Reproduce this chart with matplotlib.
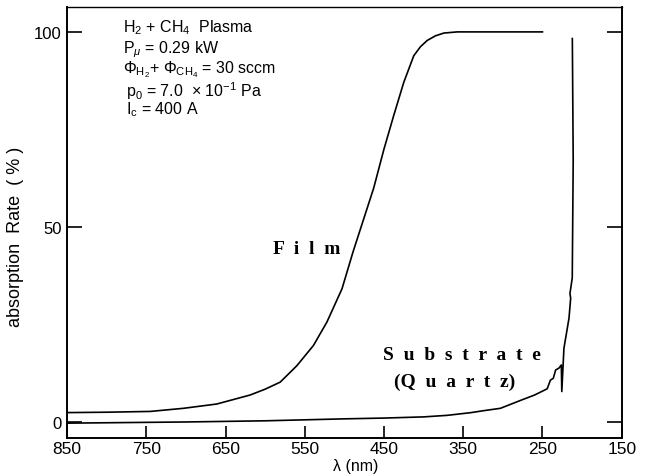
import matplotlib
matplotlib.use("Agg")
import matplotlib.pyplot as plt

plt.rcParams["font.family"] = ["Liberation Sans", "DejaVu Sans"]
plt.rcParams["mathtext.fontset"] = "custom"
plt.rcParams["mathtext.rm"] = "Liberation Sans"
plt.rcParams["mathtext.it"] = "Liberation Sans:italic"

# film absorption
film_nm = [850, 800, 745, 703, 661, 619, 600, 581, 560, 539, 522, 503, 489, 463,
           450, 437.7, 425, 412.4, 404, 395.5, 385, 374.5, 357.6, 250]
film_abs = [2.5, 2.6, 2.8, 3.6, 4.7, 7.0, 8.5, 10.3, 14.5, 19.7, 25.7, 34.2, 43.7,
            60.0, 70.0, 78.6, 87.1, 93.9, 96.2, 97.8, 99.0, 99.7, 100, 100]

# quartz substrate absorption
sub_nm = [850, 700, 600, 500, 450, 400, 370, 340, 324, 303, 278, 260, 250, 244,
          240, 236.3, 233.4, 229.2, 226.2, 225.6, 222.9, 220.8, 216.5, 214.4,
          215.3, 212.4, 211.2, 212.3]
sub_abs = [-0.2, 0.1, 0.4, 0.9, 1.1, 1.4, 1.8, 2.5, 3.0, 3.6, 5.6, 7.0, 8.0, 8.6,
           10.8, 11.3, 13.4, 13.9, 14.7, 7.9, 19.0, 21.5, 26.7, 31.8, 33.0, 37.0,
           67.0, 98.3]

xticks = [850, 750, 650, 550, 450, 350, 250, 150]
yticks = [0, 50, 100]

fig = plt.figure(figsize=(6.47, 4.77), dpi=100)
ax = fig.add_axes([0.1036, 0.0797, 0.8573, 0.9029])

ax.plot(film_nm, film_abs, color="black", lw=1.2, solid_joinstyle="round")
ax.plot(sub_nm, sub_abs, color="black", lw=1.2, solid_joinstyle="round")

ax.set_xlim(850, 150)
ax.set_ylim(-4, 106.3)
ax.set_xticks(xticks)
ax.set_yticks(yticks)
ax.set_yticklabels(["0", "50", "100"])
ax.tick_params(axis="x", direction="in", length=9, width=1.2, pad=2, labelsize=12.5)
ax.tick_params(axis="y", direction="in", length=11, width=1.2, pad=4, labelsize=12,
               right=True)
for s in ax.spines.values():
    s.set_linewidth(1.4)
ax.spines["top"].set_linewidth(1.0)

ax.set_xlabel("λ (nm)", fontsize=11.5)
ax.xaxis.set_label_coords(0.52, -0.047)
ax.set_ylabel("absorption  Rate  ( % )", fontsize=13)
ax.yaxis.set_label_coords(-0.078, 0.47)

# experimental conditions
cond = [
    (779, 101.3, r"H$_2$ + CH$_4$  Plasma"),
    (779, 95.6, r"P$_\mu$ = 0.29 kW"),
    (779, 90.5, r"$\Phi_{\mathrm{H_2}}$+ $\Phi_{\mathrm{CH_4}}$ = 30 sccm"),
    (775, 85.2, r"p$_0$ = 7.0  $\times$ 10$^{-1}$ Pa"),
    (775, 80.3, r"I$_\mathrm{c}$ = 400 A"),
]
for x, y, s in cond:
    ax.text(x, y, s, fontsize=11.5, va="center", ha="left")

serif = ["Liberation Serif", "DejaVu Serif"]
ax.text(548, 44.4, "F  i  l  m", fontsize=14, fontweight="bold", family=serif,
        ha="center", va="center")
ax.text(351, 17.5, "S  u  b  s  t  r  a  t  e", fontsize=14, fontweight="bold",
        family=serif, ha="center", va="center")
ax.text(361, 10.4, "(Q  u  a  r  t  z)", fontsize=14, fontweight="bold",
        family=serif, ha="center", va="center")

fig.savefig("out.png", dpi=100)
